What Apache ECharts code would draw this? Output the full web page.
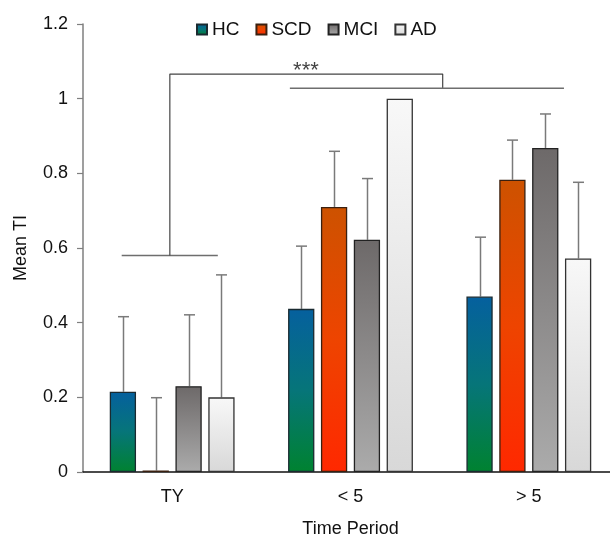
<!DOCTYPE html>
<html>
<head>
<meta charset="utf-8">
<script src="https://cdn.jsdelivr.net/npm/echarts@6/dist/echarts.min.js"></script>
<style>
html,body{margin:0;padding:0;background:#fff;}
#c{width:610px;height:536px;}
</style>
</head>
<body>
<div id="c"></div>
<script>
// ---- data ----
var categories = ['TY', '< 5', '> 5'];
var seriesNames = ['HC', 'SCD', 'MCI', 'AD'];
var hcMean  = [0.215, 0.437, 0.470];
var hcSd    = [0.201, 0.168, 0.159];
var scdMean = [0.004, 0.710, 0.783];
var scdSd   = [0.195, 0.149, 0.106];
var mciMean = [0.230, 0.622, 0.868];
var mciSd   = [0.191, 0.164, 0.091];
var adMean  = [0.200, 1.000, 0.572];
var adSd    = [0.328, 0, 0.204];
var yTicks  = [0, 0.2, 0.4, 0.6, 0.8, 1, 1.2];
// significance brackets (x in category units: TY=0, <5=1, >5=2)
var bracketTY    = [[-0.283, 0.58], [0.256, 0.58]];
var bracketMain  = [[-0.013, 0.58], [-0.013, 1.066], [1.517, 1.066], [1.517, 1.028]];
var bracketRight = [[0.66, 1.028], [2.197, 1.028]];
var sigLabel     = [[0.75, 1.075, '***']];

var means = [hcMean, scdMean, mciMean, adMean];
var sds = [hcSd, scdSd, mciSd, adSd];

var G = echarts.graphic.LinearGradient;
var fills = [
  new G(0,0,0,1,[{offset:0,color:'#05609e'},{offset:0.5,color:'#067579'},{offset:1,color:'#008230'}]),
  new G(0,0,0,1,[{offset:0,color:'#cd5200'},{offset:0.5,color:'#ee4400'},{offset:1,color:'#ff2800'}]),
  new G(0,0,0,1,[{offset:0,color:'#6d6969'},{offset:1,color:'#ababab'}]),
  new G(0,0,0,1,[{offset:0,color:'#f8f8f8'},{offset:1,color:'#d8d8d8'}])
];
var borders = ['#1a2a30', '#3a2010', '#222222', '#333333'];

var BAR_CAT_GAP = 0.30, BAR_GAP = 0.25;

var series = [];
seriesNames.forEach(function (name, i) {
  series.push({
    name: name,
    type: 'bar',
    xAxisIndex: 0, yAxisIndex: 0,
    data: means[i],
    barGap: (BAR_GAP*100) + '%',
    barCategoryGap: (BAR_CAT_GAP*100) + '%',
    itemStyle: { color: fills[i], borderColor: borders[i], borderWidth: 1.3 },
    z: 3
  });
});
seriesNames.forEach(function (name, i) {
  var d = [];
  for (var k = 0; k < categories.length; k++) {
    if (sds[i][k] > 0) d.push([k, means[i][k], sds[i][k]]);
  }
  series.push({
    name: name + ' err',
    type: 'custom',
    xAxisIndex: 0, yAxisIndex: 0,
    data: d,
    encode: { x: 0, y: 1 },
    z: 2,
    silent: true,
    renderItem: function (params, api) {
      var cat = api.value(0), v = api.value(1), sd = api.value(2);
      var band = api.size([1, 0])[0];
      var bw = band * (1 - BAR_CAT_GAP) / (4 + 3 * BAR_GAP);
      var off = (i - 1.5) * bw * (1 + BAR_GAP);
      var base = api.coord([cat, v]);
      var top = api.coord([cat, v + sd]);
      var x = Math.round(base[0] + off) + 0.5;
      var st = { stroke: '#7a7a7a', lineWidth: 1.5 };
      return {
        type: 'group',
        children: [
          { type: 'line', shape: { x1: x, y1: base[1], x2: x, y2: top[1] }, style: st },
          { type: 'line', shape: { x1: x - 5.5, y1: top[1], x2: x + 5.5, y2: top[1] }, style: st }
        ]
      };
    }
  });
});
series.push({
  type: 'line', xAxisIndex: 1, yAxisIndex: 0, data: bracketTY, symbol: 'none', silent: true,
  lineStyle: { color: '#6e6e6e', width: 1.5 }, z: 5
});
series.push({
  type: 'line', xAxisIndex: 1, yAxisIndex: 0, data: bracketMain, symbol: 'none', silent: true,
  lineStyle: { color: '#444444', width: 1.2 }, z: 5
});
series.push({
  type: 'line', xAxisIndex: 1, yAxisIndex: 0, data: bracketRight, symbol: 'none', silent: true,
  lineStyle: { color: '#6e6e6e', width: 1.5 }, z: 5
});
series.push({
  type: 'scatter', xAxisIndex: 1, yAxisIndex: 0, data: sigLabel, symbolSize: 0, silent: true,
  label: { show: true, position: 'inside', formatter: function (p) { return p.data[2]; },
           color: '#111', fontSize: 22, fontFamily: 'Liberation Sans, Arial, sans-serif' }
});

var chart = echarts.init(document.getElementById('c'), null, { renderer: 'canvas' });
chart.setOption({
  animation: false,
  backgroundColor: '#ffffff',
  textStyle: { fontFamily: 'Liberation Sans, Arial, sans-serif' },
  grid: { left: 83, right: -8, top: 24, bottom: 64, containLabel: false, outerBoundsMode: 'none' },
  legend: {
    data: seriesNames,
    left: 196, top: 20, padding: 0,
    itemWidth: 10, itemHeight: 10, itemGap: 16, itemTextGap: 4,
    icon: 'rect',
    textStyle: { fontSize: 19, color: '#111' }
  },
  xAxis: [{
    type: 'category',
    data: categories,
    axisLine: { lineStyle: { color: '#111', width: 1.5 } },
    axisTick: { show: false },
    axisLabel: { fontSize: 18, color: '#111', margin: 16 },
    name: 'Time Period',
    nameLocation: 'middle',
    nameGap: 48,
    nameTextStyle: { fontSize: 18, color: '#111' }
  }, {
    type: 'value', min: -0.5, max: 2.5, show: false
  }],
  yAxis: {
    type: 'value',
    min: yTicks[0], max: yTicks[yTicks.length - 1], interval: 0.2,
    axisLine: { show: true, onZero: false, lineStyle: { color: '#7f7f7f', width: 1.5 } },
    axisTick: { show: true, length: 6, lineStyle: { color: '#7f7f7f', width: 1.2 } },
    axisLabel: { fontSize: 18, color: '#111', margin: 15 },
    splitLine: { show: false },
    name: 'Mean TI',
    nameLocation: 'middle',
    nameGap: 53,
    nameTextStyle: { fontSize: 18, color: '#111' }
  },
  series: series
});
</script>
</body>
</html>
